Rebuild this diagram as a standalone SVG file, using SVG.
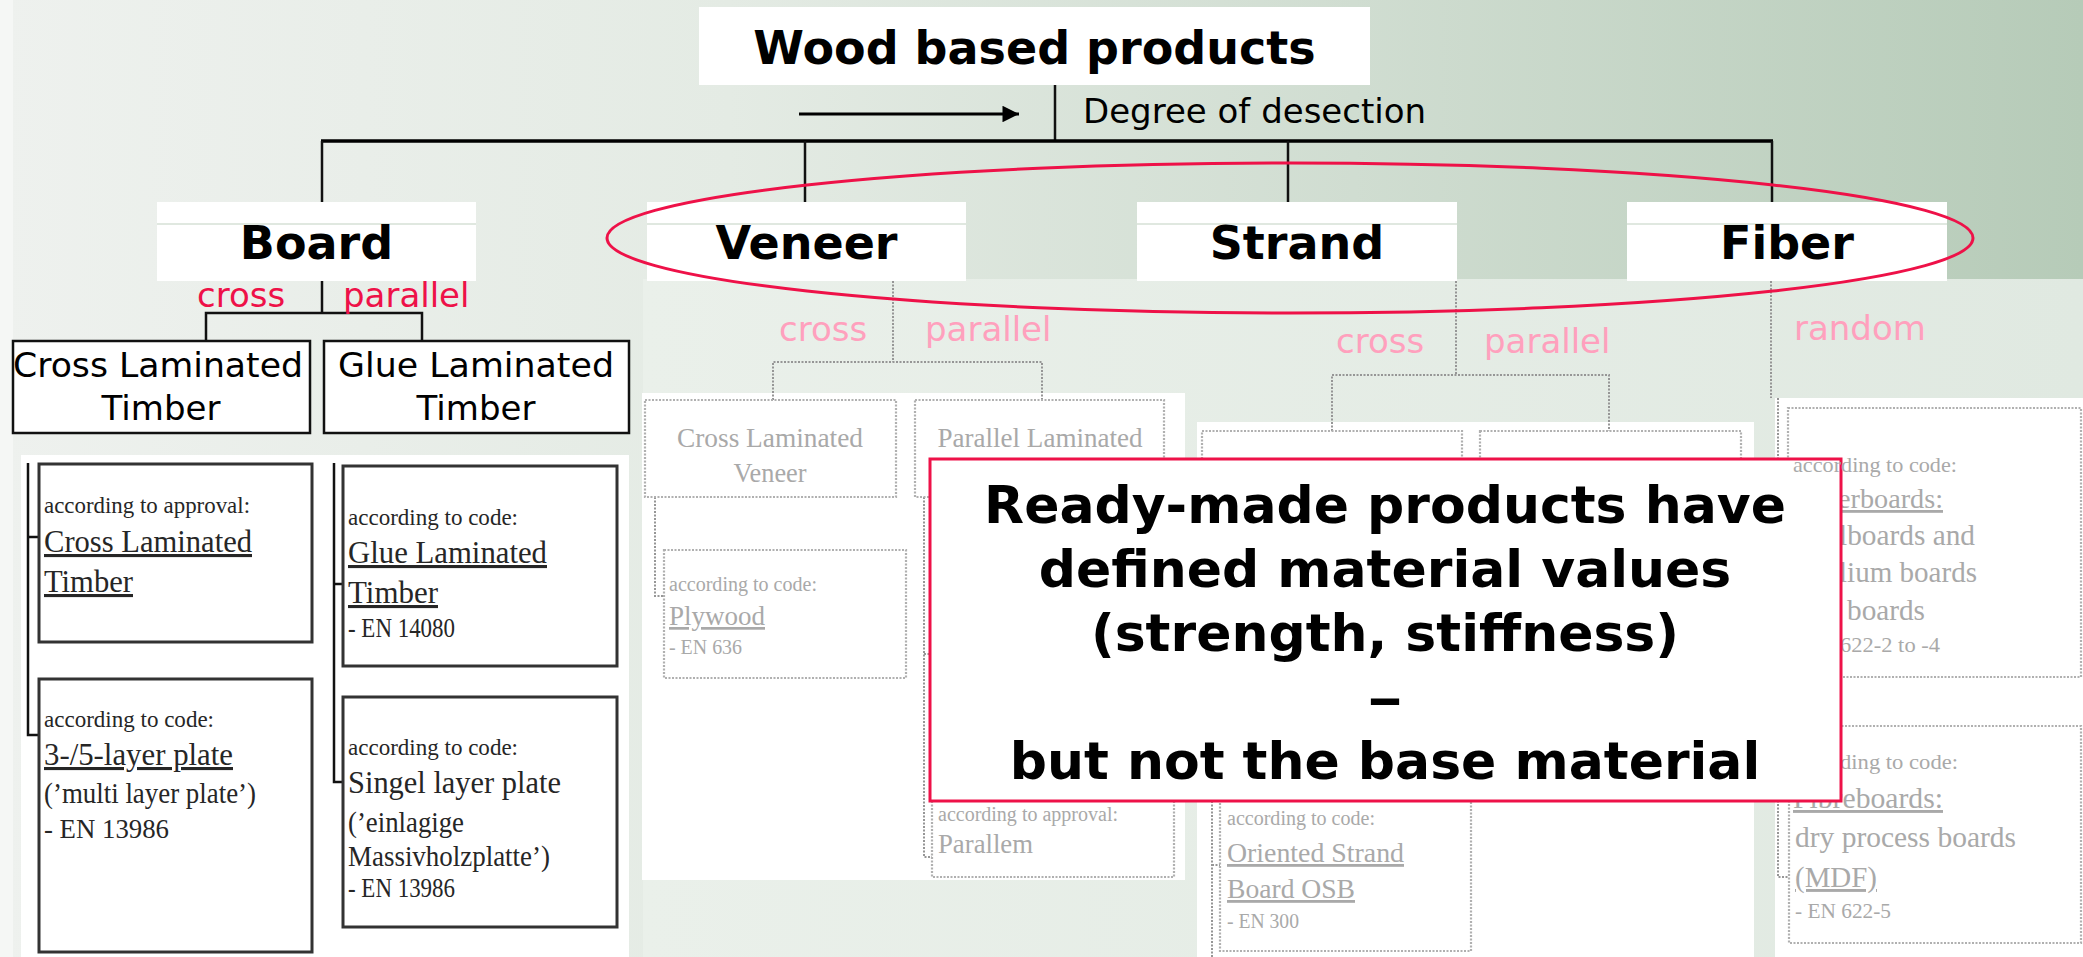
<svg xmlns="http://www.w3.org/2000/svg" width="2083" height="957" viewBox="0 0 2083 957">
<defs>
<linearGradient id="bg" x1="0" y1="0" x2="1" y2="0">
<stop offset="0" stop-color="#eef1ee"/>
<stop offset="0.35" stop-color="#e4ebe4"/>
<stop offset="0.65" stop-color="#d0ddd1"/>
<stop offset="1" stop-color="#b6cbb8"/>
</linearGradient>
<linearGradient id="low" x1="0" y1="0" x2="1" y2="0">
<stop offset="0" stop-color="#eaf0ea"/>
<stop offset="1" stop-color="#e0e9e1"/>
</linearGradient>
<marker id="ah" viewBox="0 0 10 10" refX="10" refY="5" markerWidth="6" markerHeight="5.5" markerUnits="strokeWidth" orient="auto">
<path d="M0,0 L10,5 L0,10 z" fill="#000"/>
</marker>
<style>
.cat{font-family:"DejaVu Sans",Verdana,sans-serif;font-weight:bold;font-size:46px;text-anchor:middle;fill:#000}
.sans{font-family:"DejaVu Sans",Verdana,sans-serif;font-size:34px;fill:#000}
.mid{text-anchor:middle}
.red{fill:#ee1148}
.pink{fill:#ffa0bd}
.ser{font-family:"Liberation Serif","Times New Roman",serif;fill:#262626}
.faint{font-family:"Liberation Serif","Times New Roman",serif;fill:#a9a9a9}
.u{text-decoration:underline}
.ln{stroke:#111;stroke-width:2.5;fill:none}
.dot{stroke:#969696;stroke-width:2;stroke-dasharray:2 1.5;fill:none}
.fbox{fill:#fff;stroke:#b0b0b0;stroke-width:2.2;stroke-dasharray:2 1.5}
.bbox{fill:#fff;stroke:#333;stroke-width:3}
.kbox{fill:#fff;stroke:#111;stroke-width:2.5}
.wbox{fill:#fff}
.sep{stroke:#d6e0d6;stroke-width:1.5}
.big{font-family:"DejaVu Sans",Verdana,sans-serif;font-weight:bold;font-size:52px;text-anchor:middle;fill:#000}
</style>
</defs>

<!-- background -->
<rect x="0" y="0" width="2083" height="957" fill="url(#bg)"/>
<rect x="643" y="279" width="1440" height="678" fill="url(#low)"/>
<rect x="0" y="0" width="13" height="957" fill="#f5f7f5"/>
<rect x="21" y="455" width="608" height="502" class="wbox"/>
<rect x="642" y="393" width="543" height="487" class="wbox"/>
<rect x="1197" y="422" width="557" height="535" class="wbox"/>
<rect x="1775" y="398" width="308" height="559" class="wbox"/>

<!-- connectors -->
<g id="connectors">
<line x1="1055" y1="85" x2="1055" y2="141" class="ln"/>
<line x1="321" y1="141" x2="1773" y2="141" stroke="#000" stroke-width="3.5"/>
<line x1="322" y1="141" x2="322" y2="202" class="ln"/>
<line x1="805" y1="141" x2="805" y2="202" class="ln"/>
<line x1="1288" y1="141" x2="1288" y2="202" class="ln"/>
<line x1="1772" y1="141" x2="1772" y2="202" class="ln"/>
<line x1="799" y1="114" x2="1019" y2="114" stroke="#000" stroke-width="3" marker-end="url(#ah)"/>
<!-- board -->
<line x1="322" y1="281" x2="322" y2="313" class="ln"/>
<polyline points="206,341 206,313 422,313 422,341" class="ln" stroke-width="3"/>
<polyline points="28,463 28,735 39,735" class="ln"/>
<line x1="28" y1="537" x2="39" y2="537" class="ln"/>
<polyline points="334,463 334,782 343,782" class="ln"/>
<line x1="334" y1="584" x2="343" y2="584" class="ln"/>
<!-- veneer -->
<line x1="893" y1="281" x2="893" y2="362" class="dot"/>
<polyline points="773,400 773,362 1042,362 1042,400" class="dot"/>
<polyline points="655,497 655,596 664,596" class="dot"/>
<polyline points="924,497 924,857 932,857" class="dot"/>
<line x1="924" y1="654" x2="932" y2="654" class="dot"/>
<!-- strand -->
<line x1="1456" y1="281" x2="1456" y2="375" class="dot"/>
<polyline points="1332,431 1332,375 1609,375 1609,431" class="dot"/>
<line x1="1212" y1="528" x2="1212" y2="957" class="dot"/>
<line x1="1212" y1="865" x2="1220" y2="865" class="dot"/>
<!-- fiber -->
<line x1="1771" y1="281" x2="1771" y2="398" class="dot"/>
<polyline points="1778,398 1778,877 1789,877" class="dot"/>
</g>

<!-- title -->
<g id="title">
<rect x="699" y="7" width="671" height="78" class="wbox"/>
<text x="1034.5" y="64" class="cat">Wood based products</text>
</g>
<g id="degree">
<text x="1083" y="123" class="sans">Degree of desection</text>
</g>

<!-- categories -->
<g id="board">
<rect x="157" y="202" width="319" height="79" class="wbox"/>
<line x1="157" y1="224" x2="476" y2="224" class="sep"/>
<text x="316.5" y="259" class="cat">Board</text>
<text x="197" y="307" class="sans red">cross</text>
<text x="343" y="307" class="sans red">parallel</text>
</g>
<g id="veneer">
<rect x="647" y="202" width="319" height="79" class="wbox"/>
<line x1="647" y1="224" x2="966" y2="224" class="sep"/>
<text x="806.5" y="259" class="cat">Veneer</text>
<text x="779" y="341" class="sans pink">cross</text>
<text x="925" y="341" class="sans pink">parallel</text>
</g>
<g id="strand">
<rect x="1137" y="202" width="320" height="79" class="wbox"/>
<line x1="1137" y1="224" x2="1457" y2="224" class="sep"/>
<text x="1297" y="259" class="cat">Strand</text>
<text x="1336" y="353" class="sans pink">cross</text>
<text x="1484" y="353" class="sans pink">parallel</text>
</g>
<g id="fiber">
<rect x="1627" y="202" width="320" height="79" class="wbox"/>
<line x1="1627" y1="224" x2="1947" y2="224" class="sep"/>
<text x="1787" y="259" class="cat">Fiber</text>
<text x="1794" y="340" class="sans pink">random</text>
</g>

<!-- board sub nodes -->
<g id="clt">
<rect x="13" y="341" width="297" height="92" class="kbox"/>
<text x="158" y="377" class="sans mid" textLength="290" lengthAdjust="spacingAndGlyphs">Cross Laminated</text>
<text x="161" y="420" class="sans mid">Timber</text>
</g>
<g id="glt">
<rect x="324" y="341" width="305" height="92" class="kbox"/>
<text x="476" y="377" class="sans mid" textLength="276" lengthAdjust="spacingAndGlyphs">Glue Laminated</text>
<text x="476" y="420" class="sans mid">Timber</text>
</g>
<g id="clt-approval">
<rect x="39" y="464" width="273" height="178" class="bbox"/>
<text x="44" y="513" class="ser" font-size="23" textLength="206" lengthAdjust="spacingAndGlyphs">according to approval:</text>
<text x="44" y="552" class="ser u" font-size="31" textLength="208" lengthAdjust="spacingAndGlyphs">Cross Laminated</text>
<text x="44" y="592" class="ser u" font-size="31" textLength="89" lengthAdjust="spacingAndGlyphs">Timber</text>
</g>
<g id="clt-code">
<rect x="39" y="679" width="273" height="273" class="bbox"/>
<text x="44" y="727" class="ser" font-size="23" textLength="170" lengthAdjust="spacingAndGlyphs">according to code:</text>
<text x="44" y="765" class="ser u" font-size="31" textLength="189" lengthAdjust="spacingAndGlyphs">3-/5-layer plate</text>
<text x="44" y="803" class="ser" font-size="29" textLength="212" lengthAdjust="spacingAndGlyphs">(’multi layer plate’)</text>
<text x="44" y="838" class="ser" font-size="28" textLength="125" lengthAdjust="spacingAndGlyphs">- EN 13986</text>
</g>
<g id="glt-code">
<rect x="343" y="466" width="274" height="200" class="bbox"/>
<text x="348" y="525" class="ser" font-size="23" textLength="170" lengthAdjust="spacingAndGlyphs">according to code:</text>
<text x="348" y="563" class="ser u" font-size="31" textLength="199" lengthAdjust="spacingAndGlyphs">Glue Laminated</text>
<text x="348" y="603" class="ser u" font-size="31" textLength="90" lengthAdjust="spacingAndGlyphs">Timber</text>
<text x="348" y="637" class="ser" font-size="28" textLength="107" lengthAdjust="spacingAndGlyphs">- EN 14080</text>
</g>
<g id="single-layer">
<rect x="343" y="697" width="274" height="230" class="bbox"/>
<text x="348" y="755" class="ser" font-size="23" textLength="170" lengthAdjust="spacingAndGlyphs">according to code:</text>
<text x="348" y="793" class="ser" font-size="31" textLength="213" lengthAdjust="spacingAndGlyphs">Singel layer plate</text>
<text x="348" y="832" class="ser" font-size="30" textLength="116" lengthAdjust="spacingAndGlyphs">(’einlagige</text>
<text x="348" y="866" class="ser" font-size="29" textLength="202" lengthAdjust="spacingAndGlyphs">Massivholzplatte’)</text>
<text x="348" y="897" class="ser" font-size="28" textLength="107" lengthAdjust="spacingAndGlyphs">- EN 13986</text>
</g>

<!-- veneer sub nodes -->
<g id="clv">
<rect x="645" y="400" width="251" height="97" class="fbox"/>
<text x="770" y="447" class="faint mid" font-size="28" textLength="186" lengthAdjust="spacingAndGlyphs">Cross Laminated</text>
<text x="770" y="482" class="faint mid" font-size="28" textLength="73" lengthAdjust="spacingAndGlyphs">Veneer</text>
</g>
<g id="plv">
<rect x="915" y="400" width="249" height="97" class="fbox"/>
<text x="1040" y="447" class="faint mid" font-size="28" textLength="205" lengthAdjust="spacingAndGlyphs">Parallel Laminated</text>
</g>
<g id="plywood">
<rect x="664" y="550" width="242" height="128" class="fbox"/>
<text x="669" y="591" class="faint" font-size="20" textLength="148" lengthAdjust="spacingAndGlyphs">according to code:</text>
<text x="669" y="625" class="faint u" font-size="27" textLength="96" lengthAdjust="spacingAndGlyphs">Plywood</text>
<text x="669" y="654" class="faint" font-size="20" textLength="73" lengthAdjust="spacingAndGlyphs">- EN 636</text>
</g>
<g id="parallem">
<rect x="932" y="770" width="242" height="107" class="fbox"/>
<text x="938" y="821" class="faint" font-size="20" textLength="180" lengthAdjust="spacingAndGlyphs">according to approval:</text>
<text x="938" y="853" class="faint" font-size="27" textLength="95" lengthAdjust="spacingAndGlyphs">Parallem</text>
</g>

<!-- strand sub nodes -->
<g id="strand-a">
<rect x="1202" y="431" width="260" height="97" class="fbox"/>
</g>
<g id="strand-b">
<rect x="1480" y="431" width="261" height="97" class="fbox"/>
</g>
<g id="osb">
<rect x="1220" y="780" width="251" height="171" class="fbox"/>
<text x="1227" y="825" class="faint" font-size="20" textLength="148" lengthAdjust="spacingAndGlyphs">according to code:</text>
<text x="1227" y="862" class="faint u" font-size="28" textLength="177" lengthAdjust="spacingAndGlyphs">Oriented Strand</text>
<text x="1227" y="898" class="faint u" font-size="28" textLength="128" lengthAdjust="spacingAndGlyphs">Board OSB</text>
<text x="1227" y="928" class="faint" font-size="20" textLength="72" lengthAdjust="spacingAndGlyphs">- EN 300</text>
</g>

<!-- fiber sub nodes -->
<g id="fiber-a">
<rect x="1788" y="408" width="293" height="269" class="fbox"/>
<text x="1838" y="508" class="faint u" font-size="28" textLength="105" lengthAdjust="spacingAndGlyphs">erboards:</text>
<text x="1839" y="545" class="faint" font-size="29" textLength="136" lengthAdjust="spacingAndGlyphs">lboards and</text>
<text x="1839" y="582" class="faint" font-size="29" textLength="138" lengthAdjust="spacingAndGlyphs">lium boards</text>
<text x="1847" y="620" class="faint" font-size="29" textLength="78" lengthAdjust="spacingAndGlyphs">boards</text>
<text x="1840" y="652" class="faint" font-size="22" textLength="100" lengthAdjust="spacingAndGlyphs">622-2 to -4</text>
</g>
<g id="fiber-b">
<rect x="1789" y="726" width="292" height="217" class="fbox"/>
<text x="1840" y="769" class="faint" font-size="22" textLength="118" lengthAdjust="spacingAndGlyphs">ding to code:</text>
<text x="1793" y="808" class="faint u" font-size="29" textLength="150" lengthAdjust="spacingAndGlyphs">Fibreboards:</text>
<text x="1795" y="847" class="faint" font-size="29" textLength="221" lengthAdjust="spacingAndGlyphs">dry process boards</text>
<text x="1795" y="887" class="faint u" font-size="29" textLength="82" lengthAdjust="spacingAndGlyphs">(MDF)</text>
<text x="1795" y="918" class="faint" font-size="22" textLength="96" lengthAdjust="spacingAndGlyphs">- EN 622-5</text>
</g>

<!-- highlight ellipse -->
<g id="highlight">
<ellipse cx="1290" cy="238" rx="683" ry="75" fill="none" stroke="#ee1148" stroke-width="3"/>
</g>

<!-- callout -->
<g id="callout">
<rect x="930" y="459" width="911" height="342" fill="#fff" stroke="#ee1148" stroke-width="3"/>
<text x="1385" y="523" class="big">Ready-made products have</text>
<text x="1385" y="587" class="big">defined material values</text>
<text x="1385" y="651" class="big">(strength, stiffness)</text>
<text x="1367" y="716" class="big" style="text-anchor:start" textLength="36" lengthAdjust="spacingAndGlyphs">–</text>
<text x="1385" y="779" class="big">but not the base material</text>
</g>
<g id="fiber-a-head">
<text x="1793" y="472" class="faint" font-size="22" textLength="164" lengthAdjust="spacingAndGlyphs">according to code:</text>
</g>
</svg>
